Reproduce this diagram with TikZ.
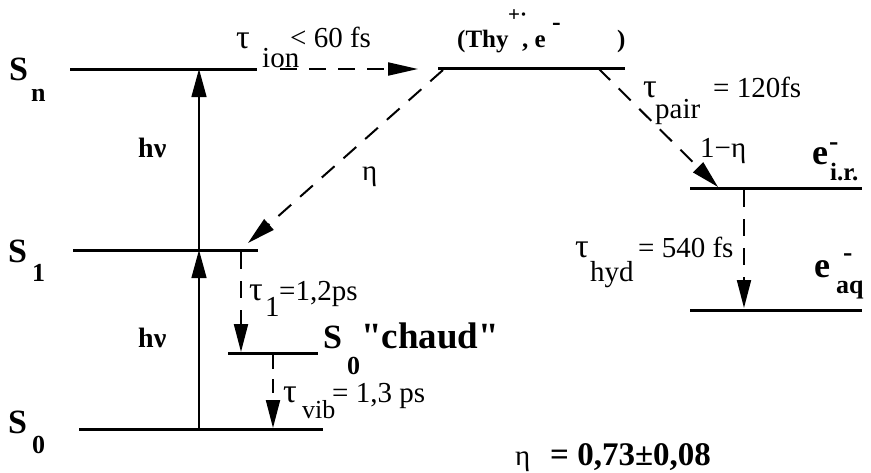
\documentclass[tikz,border=0pt]{standalone}
\usepackage{fontspec}
\setmainfont{Liberation Serif}
\newfontfamily\nolig{Liberation Serif}[Ligatures=TeXOff]
\usetikzlibrary{arrows.meta}
\newcommand\fsz[1]{\fontsize{#1}{#1}\selectfont}
\tikzset{
  x=1pt, y=-1pt,
  lvl/.style={line width=3pt},
  txt/.style={inner sep=0pt, anchor=base west, font=\fsz{29}},
  tau/.style={inner sep=0pt, anchor=base west, font=\fsz{34}},
  btxt/.style={inner sep=0pt, anchor=base west, font=\fsz{28}\bfseries},
  solidarr/.style={line width=1.4pt, -{Triangle[length=28pt,width=15pt]}},
  dasharr/.style={line width=2pt, dash pattern=on 17pt off 12pt, -{Triangle[length=28pt,width=14pt]}},
}
\begin{document}
\begin{tikzpicture}
\useasboundingbox (0,0) rectangle (871,472);
% levels
\coordinate (snL) at (70,69);   \coordinate (snR) at (257,69);
\coordinate (s1L) at (73,250);  \coordinate (s1R) at (258,250);
\coordinate (s0L) at (79,429);  \coordinate (s0R) at (323,429);
\coordinate (shL) at (228,353); \coordinate (shR) at (318,353);
\coordinate (thL) at (438,68);  \coordinate (thR) at (625,68);
\coordinate (irL) at (690,188); \coordinate (irR) at (862,188);
\coordinate (aqL) at (690,310); \coordinate (aqR) at (862,310);
\draw[lvl] (snL) -- (snR);
\draw[lvl] (s1L) -- (s1R);
\draw[lvl] (s0L) -- (s0R);
\draw[lvl] (shL) -- (shR);
\draw[lvl] (thL) -- (thR);
\draw[lvl] (irL) -- (irR);
\draw[lvl] (aqL) -- (aqR);
% excitation arrows
\coordinate (v0) at (199,429); \coordinate (v1) at (199,250); \coordinate (vn) at (199,69);
\draw[solidarr] (v0) -- (v1);
\draw[solidarr] (v1) -- (vn);
% dashed transfers
\coordinate (ionA) at (280,69); \coordinate (ionB) at (418,69);
\draw[dasharr, -{Triangle[length=30pt,width=13pt]}] (ionA) -- (ionB);
\coordinate (etaA) at (443,70); \coordinate (etaB) at (248,243);
\draw[dasharr] (etaA) -- (etaB);
\coordinate (prA) at (598,68); \coordinate (prB) at (718,187);
\draw[dasharr] (prA) -- (prB);
\coordinate (t1A) at (241,252); \coordinate (t1B) at (241,352);
\draw[dasharr] (t1A) -- (t1B);
\coordinate (tvA) at (273,355); \coordinate (tvB) at (273,428);
\draw[dasharr, dash pattern=on 14pt off 10pt] (tvA) -- (tvB);
\coordinate (hyA) at (744,190); \coordinate (hyB) at (744,308);
\draw[dasharr] (hyA) -- (hyB);
% state labels
\node[btxt, font=\fsz{34}\bfseries] (Sn) at (9,80) {S};
\node[btxt, font=\fsz{26}\bfseries] (Snsub) at (31,101) {n};
\node[btxt, font=\fsz{34}\bfseries] (S1) at (8,262) {S};
\node[btxt, font=\fsz{26}\bfseries] (S1sub) at (32,281) {1};
\node[btxt, font=\fsz{34}\bfseries] (S0) at (8,433) {S};
\node[btxt, font=\fsz{26}\bfseries] (S0sub) at (32,453) {0};
\node[btxt, font=\fsz{34}\bfseries] (Sh) at (323,348) {S};
\node[btxt, font=\fsz{26}\bfseries] (Shsub) at (347,374) {0};
\node[btxt, font=\nolig\fsz{37}\bfseries] (chaud) at (361,348) {"chaud"};
\node[btxt] (hnu1) at (138,157) {hν};
\node[btxt] (hnu2) at (138,347) {hν};
% Thy label
\node[btxt, font=\fsz{25}\bfseries] (thy1) at (457,47) {(Thy};
\node[btxt, font=\fsz{21}\bfseries] (thy2) at (508,21) {+·};
\node[btxt, font=\fsz{25}\bfseries] (thy3) at (522,47) {, e};
\node[btxt, font=\fsz{26}\bfseries] (thy4) at (552,30) {-};
\node[btxt, font=\fsz{25}\bfseries] (thy5) at (617,47) {)};
% electron labels
\node[btxt, font=\fsz{36}\bfseries] (eir) at (812,164) {e};
\node[btxt, font=\fsz{28}\bfseries] (eirm) at (829,150) {-};
\node[btxt, font=\fsz{25}\bfseries] (eirs) at (830,180) {i.r.};
\node[btxt, font=\fsz{36}\bfseries] (eaq) at (814,277) {e};
\node[btxt, font=\fsz{28}\bfseries] (eaqm) at (843,261) {-};
\node[btxt, font=\fsz{26}\bfseries] (eaqs) at (836,293) {aq};
% time constants
\node[tau] (tion) at (236,48) {τ};
\node[txt] (tions) at (262,67) {ion};
\node[txt] (tionv) at (290,47) {< 60 fs};
\node[txt] (eta) at (362,180) {η};
\node[tau] (tpr) at (643,97) {τ};
\node[txt] (tprs) at (655,118) {pair};
\node[txt] (tprv) at (713,97) {= 120fs};
\node[txt] (oneeta) at (700,157) {1−η};
\node[tau] (thy) at (575,257) {τ};
\node[txt] (thys) at (590,281) {hyd};
\node[txt] (thyv) at (638,257) {= 540 fs};
\node[tau] (t1) at (249,300) {τ};
\node[txt] (t1s) at (265,316) {1};
\node[txt] (t1v) at (279,300) {=1,2ps};
\node[tau] (tv) at (283,402) {τ};
\node[txt, font=\fsz{26}] (tvs) at (302,418) {vib};
\node[txt] (tvv) at (332,402) {= 1,3 ps};
% efficiency
\node[txt] (etaf) at (515,465) {η};
\node[btxt, font=\fsz{33}\bfseries] (etav) at (550,465) {= 0,73±0,08};
\end{tikzpicture}
\end{document}
